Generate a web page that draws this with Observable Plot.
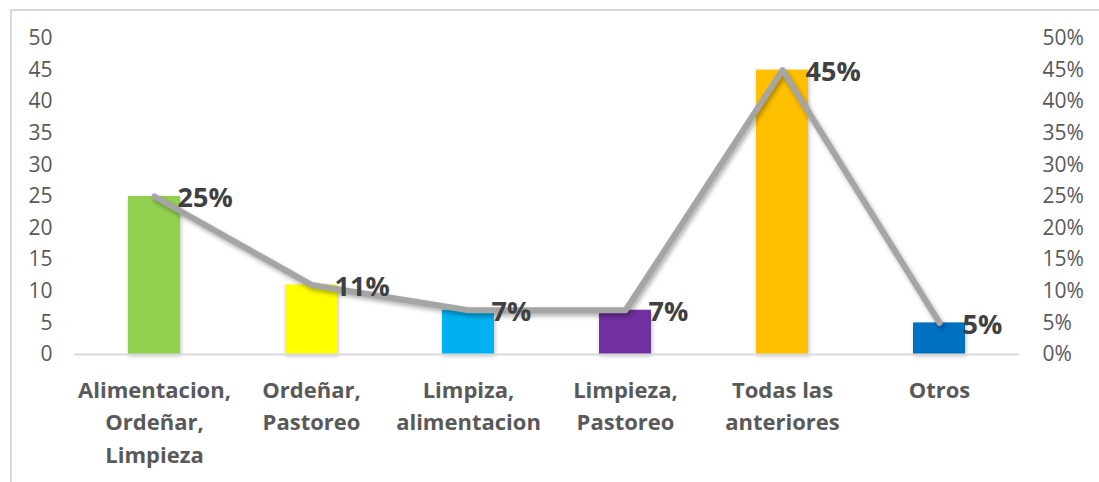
<!DOCTYPE html>
<html>
<head>
<meta charset="utf-8">
<script src="https://cdn.jsdelivr.net/npm/d3@7"></script>
<script src="https://cdn.jsdelivr.net/npm/@observablehq/plot@0.6"></script>
<style>
  html, body { margin: 0; padding: 0; background: #fff; }
  #wrap { position: relative; width: 1099px; height: 482px; overflow: hidden; }
  #frame { position: absolute; left: 10px; top: 9px; width: 1100px; height: 480px;
           border-left: 2px solid #d9d9d9; border-top: 2px solid #d9d9d9; box-sizing: border-box; }
  #chart { position: absolute; left: 0; top: 0; }
  g[aria-label="line"] path { filter: drop-shadow(2px 3px 2px rgba(0,0,0,0.3)); }
  g[aria-label="bar"] rect { filter: drop-shadow(1px 2px 2px rgba(0,0,0,0.25)); }
</style>
</head>
<body>
<div id="wrap"><div id="frame"></div><div id="chart"></div></div>
<script>
const categories = [
  "Alimentacion,\nOrdeñar,\nLimpieza",
  "Ordeñar,\nPastoreo",
  "Limpiza,\nalimentacion",
  "Limpieza,\nPastoreo",
  "Todas las\nanteriores",
  "Otros"
];
const counts = [25, 11, 7, 7, 45, 5];
const percents = [25, 11, 7, 7, 45, 5];
const barColors = ["#92D050", "#FFFF00", "#00B0F0", "#7030A0", "#FFC000", "#0070C0"];
const leftTicks = [0, 5, 10, 15, 20, 25, 30, 35, 40, 45, 50];
const rightTicks = [0, 5, 10, 15, 20, 25, 30, 35, 40, 45, 50];

const data = categories.map((c, i) => ({ cat: c, n: counts[i], pct: percents[i] }));
const font = "'Open Sans', sans-serif";

const chart = Plot.plot({
  width: 1099,
  height: 482,
  marginLeft: 74,
  marginRight: 80,
  marginTop: 38,
  marginBottom: 128,
  style: { fontFamily: font, background: "transparent", overflow: "visible" },
  x: { domain: categories, paddingInner: 0.67, paddingOuter: 0.335, align: 0.5 },
  y: { domain: [0, 50] },
  color: { domain: categories, range: barColors },
  marks: [
    Plot.axisY({ ticks: leftTicks, anchor: "left", tickSize: 0, tickPadding: 22,
                 fontSize: 21, color: "#595959", label: null }),
    Plot.axisY({ ticks: rightTicks, anchor: "right", tickSize: 0, tickPadding: 23,
                 fontSize: 21, color: "#595959", label: null, tickFormat: d => d + "%" }),
    Plot.axisX({ tickSize: 0, tickPadding: 21, fontSize: 22, fontWeight: "bold",
                 color: "#595959", lineHeight: 1.46, label: null }),
    Plot.barY(data, { x: "cat", y: "n", fill: "cat" }),
    Plot.ruleY([0], { stroke: "#d9d9d9", strokeWidth: 2 }),
    Plot.lineY(data, { x: "cat", y: "pct", stroke: "#A5A5A5", strokeWidth: 6,
                       strokeLinecap: "round", strokeLinejoin: "round" }),
    Plot.text(data, { x: "cat", y: "pct", text: d => d.pct + "%", textAnchor: "start",
                      dx: 23, dy: 2, fontSize: 27, fontWeight: "bold", fill: "#404040" })
  ]
});
document.getElementById("chart").appendChild(chart);
</script>
</body>
</html>
